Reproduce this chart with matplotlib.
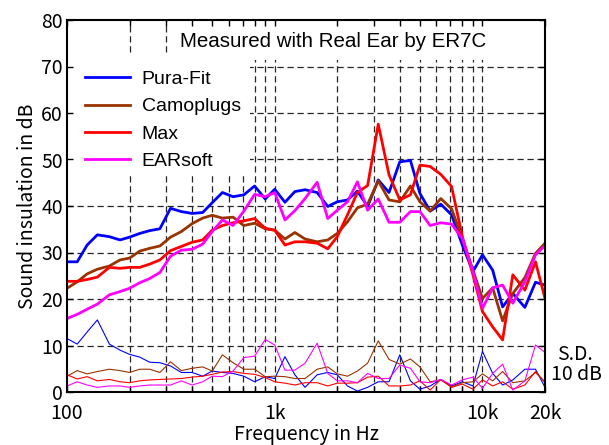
import numpy as np
import matplotlib
matplotlib.use("Agg")
import matplotlib.pyplot as plt
from matplotlib.patches import Rectangle
from matplotlib.ticker import FixedLocator, NullFormatter, FixedFormatter

# ---------------- data ----------------
freqs = [100, 112, 125, 140, 160, 180, 200, 224, 250, 280, 315, 355, 400, 450, 500,
         560, 630, 710, 800, 900, 1000, 1120, 1250, 1400, 1600, 1800, 2000, 2240,
         2500, 2800, 3150, 3550, 4000, 4500, 5000, 5600, 6300, 7100, 8000, 9000,
         10000, 11200, 12500, 14000, 16000, 18000, 20000]

series_names = ["Pura-Fit", "Camoplugs", "Max", "EARsoft"]

pura_fit = [28.0, 28.0, 31.6, 33.8, 33.4, 32.7, 33.3, 34.1, 34.7, 35.1, 39.5, 38.8,
            38.4, 38.6, 40.7, 42.9, 42.0, 42.4, 44.3, 41.5, 43.6, 40.8, 43.1, 43.5,
            42.9, 39.9, 40.9, 41.3, 43.2, 39.9, 45.6, 42.9, 49.5, 49.8, 42.7, 38.9,
            40.4, 38.1, 31.6, 25.9, 29.5, 26.2, 18.3, 21.2, 18.2, 23.6, 23.0]
camoplugs = [22.3, 23.7, 25.4, 26.4, 27.1, 28.4, 28.8, 30.3, 30.9, 31.4, 33.3, 34.5,
             36.2, 37.4, 38.0, 37.4, 37.6, 35.8, 36.3, 35.1, 34.8, 32.9, 34.3, 32.9,
             32.3, 32.7, 34.1, 36.6, 39.6, 40.4, 45.4, 41.3, 40.9, 44.3, 40.9, 38.9,
             41.6, 39.4, 33.0, 26.2, 20.1, 22.4, 15.3, 21.2, 24.6, 29.8, 32.0]
max_plug = [23.8, 23.8, 24.2, 24.7, 26.8, 26.6, 26.8, 26.8, 27.5, 28.4, 30.4, 31.3,
            32.2, 32.7, 34.8, 35.8, 36.4, 36.8, 37.3, 35.2, 34.8, 31.6, 32.3, 32.3,
            32.0, 30.8, 33.4, 38.1, 42.9, 44.4, 57.6, 46.7, 41.3, 42.4, 48.8, 48.5,
            46.8, 44.2, 33.4, 25.2, 17.3, 14.0, 11.2, 25.2, 21.9, 28.0, 20.1]
earsoft = [15.8, 16.7, 17.8, 18.9, 20.9, 21.6, 22.3, 23.5, 24.4, 25.7, 29.2, 30.5,
           30.7, 31.8, 34.5, 37.0, 35.8, 38.9, 42.5, 42.0, 42.9, 37.0, 39.0, 41.6,
           45.1, 37.3, 39.1, 40.9, 45.2, 39.1, 41.5, 36.5, 36.5, 38.8, 38.8, 35.8,
           36.4, 36.1, 33.0, 25.9, 18.0, 22.4, 23.0, 19.1, 23.7, 29.5, 31.5]

# standard deviations (thin lines)
sd_pura_fit = [11.5, 10.3, 12.9, 15.5, 10.3, 9.0, 8.1, 7.5, 6.4, 6.3, 5.6, 4.2, 4.2,
               3.4, 4.5, 4.2, 4.0, 3.4, 2.2, 3.3, 2.9, 7.6, 3.7, 1.0, 3.7, 4.2, 3.7,
               1.3, 0.2, 1.0, 2.2, 2.2, 8.0, 2.4, 0.6, 1.3, 2.7, 1.3, 2.2, 1.3, 8.7,
               4.0, 1.5, 2.6, 4.9, 4.9, 1.0]
sd_camoplugs = [3.4, 4.6, 3.9, 4.4, 4.9, 4.6, 4.2, 4.9, 4.9, 4.2, 6.5, 4.6, 5.1, 5.4,
                4.5, 8.0, 6.3, 4.9, 4.9, 3.3, 3.4, 3.3, 2.9, 2.9, 4.9, 5.4, 3.9, 3.4,
                4.5, 6.2, 11.0, 7.0, 6.0, 7.1, 5.4, 2.2, 2.6, 1.1, 2.0, 2.2, 3.9, 2.4,
                4.4, 2.0, 2.4, 4.2, 2.2]
sd_max = [3.7, 2.8, 3.3, 2.4, 2.7, 2.2, 2.0, 2.4, 2.6, 2.7, 2.8, 2.9, 3.2, 3.4, 3.8,
          4.3, 4.4, 4.0, 3.8, 3.1, 2.2, 1.9, 1.5, 2.0, 2.0, 1.3, 1.9, 1.9, 2.0, 3.2,
          3.4, 1.3, 1.3, 1.5, 2.4, 0.4, 2.7, 1.0, 1.7, 0.6, 2.6, 1.3, 2.2, 0.6, 1.5,
          4.4, 2.0]
sd_earsoft = [1.3, 2.2, 1.5, 1.0, 1.3, 1.3, 1.0, 1.3, 1.5, 1.5, 1.5, 2.4, 1.5, 2.2,
              3.4, 3.3, 4.5, 7.4, 7.7, 11.3, 10.1, 4.7, 4.7, 6.2, 10.5, 4.0, 2.4, 2.4,
              2.0, 4.0, 2.9, 2.9, 5.8, 5.1, 2.2, 2.0, 2.7, 1.5, 2.6, 3.2, 0.8, 4.0,
              6.0, 0.4, 2.4, 10.1, 8.5]

x_major = [100, 1000, 10000, 20000]
x_major_labels = ["100", "1k", "10k", "20k"]
x_minor = [200, 300, 400, 500, 600, 700, 800, 900,
           2000, 3000, 4000, 5000, 6000, 7000, 8000, 9000]
y_ticks = [0, 10, 20, 30, 40, 50, 60, 70, 80]

colors = ["#0000FF", "#993300", "#FF0000", "#FF00FF"]

# ---------------- figure ----------------
plt.rcParams['font.family'] = ['Liberation Sans', 'DejaVu Sans']
label_font = ['Noto Sans CJK JP', 'DejaVu Sans']

fig = plt.figure(figsize=(6.09, 4.45), dpi=100)
ax = fig.add_axes([67 / 609, 53 / 445, 478 / 609, 372 / 445])
ax.set_xscale('log')
ax.set_xlim(100, 20000)
ax.set_ylim(0, 80)

# manual dashed grid (under the white boxes)
grid_kw = dict(color='0.15', lw=0.9, ls=(0, (5.0, 3.0)), zorder=0.5)
for f in x_minor + [1000, 10000]:
    ax.axvline(f, **grid_kw)
for yv in y_ticks[1:-1]:
    ax.axhline(yv, **grid_kw)

# white boxes behind legend and title
ax.add_patch(Rectangle((0.0, 0.589), 0.383, 0.314, transform=ax.transAxes,
                       facecolor='white', edgecolor='none', zorder=0.8))
ax.add_patch(Rectangle((0.220, 0.892), 0.780, 0.108, transform=ax.transAxes,
                       facecolor='white', edgecolor='none', zorder=0.8))

means = [pura_fit, camoplugs, max_plug, earsoft]
sds = [sd_pura_fit, sd_camoplugs, sd_max, sd_earsoft]
handles = []
for name, m, c in zip(series_names, means, colors):
    h, = ax.plot(freqs, m, color=c, lw=2.0, label=name, zorder=2)
    handles.append(h)
for s, c in zip(sds, colors):
    ax.plot(freqs, s, color=c, lw=0.8, zorder=2)

# ticks
ax.xaxis.set_major_locator(FixedLocator(x_major))
ax.xaxis.set_major_formatter(FixedFormatter(x_major_labels))
ax.xaxis.set_minor_locator(FixedLocator(x_minor))
ax.xaxis.set_minor_formatter(NullFormatter())
ax.set_yticks(y_ticks)
ax.tick_params(which='both', direction='in', top=True, right=True, width=1.0)
ax.tick_params(which='major', length=4.5)
ax.tick_params(which='minor', length=4.0)
ax.tick_params(axis='x', pad=8)
ax.tick_params(axis='y', pad=3)
for lab in ax.get_xticklabels() + ax.get_yticklabels():
    lab.set_family(label_font)
    lab.set_fontsize(14)

for sp in ax.spines.values():
    sp.set_linewidth(1.5)

ax.set_xlabel("Frequency in Hz", family=label_font, fontsize=14, labelpad=0)
ax.set_ylabel("Sound insulation in dB", family=label_font, fontsize=14, labelpad=2)

leg = ax.legend(handles=handles, loc='upper left', bbox_to_anchor=(0.03, 0.875),
                frameon=False, fontsize=14, handlelength=2.3, handletextpad=0.6,
                labelspacing=0.5, borderpad=0.2, borderaxespad=0)
leg.set_zorder(3)

ax.text(0.237, 0.943, "Measured with Real Ear by ER7C", transform=ax.transAxes,
        fontsize=14.8, va='center', ha='left', zorder=3)

fig.text(557 / 609, 1 - 355 / 445, "S.D.", family=label_font, fontsize=14,
         va='center', ha='left')
fig.text(551 / 609, 1 - 375 / 445, "10 dB", family=label_font, fontsize=14,
         va='center', ha='left')

fig.savefig("out.png", dpi=100)
